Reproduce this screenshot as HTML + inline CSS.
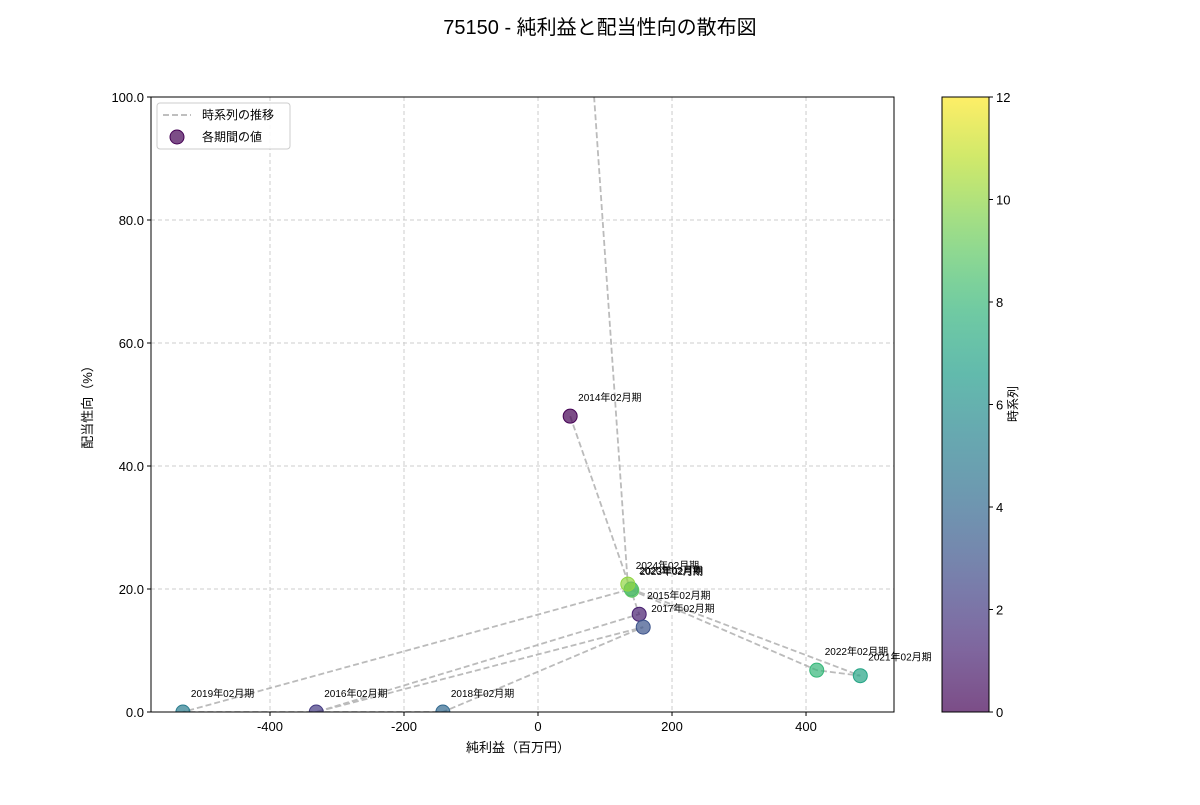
<!DOCTYPE html>
<html><head><meta charset="utf-8"><style>
body{margin:0;background:#fff;}
svg text{font-family:"Liberation Sans","Noto Sans CJK JP",sans-serif;}
</style></head><body>
<svg id="chart" width="1200" height="800" viewBox="0 0 1200 800" xmlns="http://www.w3.org/2000/svg">
<rect width="1200" height="800" fill="#fff"/>
<text x="600" y="34" text-anchor="middle" font-size="20" fill="#000">75150 - 純利益と配当性向の散布図</text>
<g id="grid"></g>
<g id="plot"></g>
<rect x="151" y="97" width="743" height="615" fill="none" stroke="#000" stroke-width="1"/>
<g id="axes"></g>
<text x="518" y="752" text-anchor="middle" font-size="13">純利益（百万円）</text>
<text transform="translate(92,404) rotate(-90)" text-anchor="middle" font-size="13">配当性向（%）</text>
<g>
<rect x="157" y="103" width="133" height="46" rx="3" fill="#fff" fill-opacity="0.85" stroke="#ccc"/>
<line x1="163" y1="115" x2="191" y2="115" stroke="#aaa" stroke-width="1.6" stroke-dasharray="6,3"/>
<text x="202" y="119" font-size="12">時系列の推移</text>
<circle cx="177" cy="137" r="7" fill="#440154" fill-opacity="0.7" stroke="#440154"/>
<text x="202" y="141" font-size="12">各期間の値</text>
</g>
<g id="cbar"></g>
</svg>
<script>
const periods=["2014年02月期","2015年02月期","2016年02月期","2017年02月期","2018年02月期","2019年02月期","2020年02月期","2021年02月期","2022年02月期","2023年02月期","2024年02月期","2025年02月期"];
const netIncome=[48,151,-331,157,-142,-530,139,481,416,140,134,52];
const payout=[48.1,15.9,0,13.8,0,0,20,5.9,6.8,19.8,20.8,150];
const xTicks=[-400,-200,0,200,400];
const yTicks=[0,20,40,60,80,100];
const cTicks=[0,2,4,6,8,10,12];
const NS="http://www.w3.org/2000/svg";
const X0=151,X1=894,Y0=97,Y1=712,xmin=-577.6,xmax=531.3,ymin=0,ymax=100;
const xs=v=>X0+(v-xmin)/(xmax-xmin)*(X1-X0);
const ys=v=>Y1-(v-ymin)/(ymax-ymin)*(Y1-Y0);
function mk(tag,attrs,parent){const e=document.createElementNS(NS,tag);for(const k in attrs)e.setAttribute(k,attrs[k]);parent.appendChild(e);return e;}
const vir=[[68,1,84],[72,40,120],[62,74,137],[49,104,142],[38,130,142],[31,158,137],[53,183,121],[109,205,89],[180,222,44],[253,231,37]];
function viridis(t){t=Math.max(0,Math.min(1,t))*(vir.length-1);const i=Math.min(Math.floor(t),vir.length-2),f=t-i;const c=vir[i].map((a,k)=>Math.round(a+(vir[i+1][k]-a)*f));return `rgb(${c[0]},${c[1]},${c[2]})`;}
const grid=document.getElementById('grid'),axes=document.getElementById('axes'),plot=document.getElementById('plot'),cbar=document.getElementById('cbar');
xTicks.forEach(v=>{const x=xs(v);
const g=mk('line',{x1:x,x2:x,y1:Y0,y2:Y1,stroke:'#ccc','stroke-dasharray':'4,3'},grid);

const t=mk('line',{x1:x,x2:x,y1:Y1,y2:Y1+4,stroke:'#000'},axes);

const l=mk('text',{x:x,y:Y1+19,'text-anchor':'middle','font-size':13},axes);l.textContent=v;
});
yTicks.forEach(v=>{const y=ys(v);
const g=mk('line',{x1:X0,x2:X1,y1:y,y2:y,stroke:'#ccc','stroke-dasharray':'4,3'},grid);

const t=mk('line',{x1:X0-4,x2:X0,y1:y,y2:y,stroke:'#000'},axes);

const l=mk('text',{x:X0-7,y:y+5,'text-anchor':'end','font-size':13},axes);l.textContent=v.toFixed(1);
});
const clip=mk('clipPath',{id:'pc'},document.getElementById('chart'));mk('rect',{x:X0,y:Y0,width:X1-X0,height:Y1-Y0},clip);
const inner=mk('g',{'clip-path':'url(#pc)'},plot);
const pts=netIncome.map((v,i)=>`${xs(v)},${ys(payout[i])}`).join(' ');
const pl=mk('polyline',{points:pts,fill:'none',stroke:'#aaa','stroke-opacity':0.8,'stroke-width':1.8,'stroke-dasharray':'6,3'},inner);

netIncome.forEach((v,i)=>{const c=viridis(i/12);
const p=mk('circle',{cx:xs(v),cy:ys(payout[i]),r:7,fill:c,'fill-opacity':0.7,stroke:c,'stroke-width':1},inner);
});
netIncome.forEach((v,i)=>{if(payout[i]>ymax)return;
const l=mk('text',{x:xs(v)+8,y:ys(payout[i])-15,'font-size':10},plot);l.textContent=periods[i];
});
const CX=942,CW=47;
const defs=mk('defs',{},cbar);const gr=mk('linearGradient',{id:'vg',x1:0,y1:1,x2:0,y2:0},defs);
for(let k=0;k<=20;k++)mk('stop',{offset:k/20,'stop-color':viridis(k/20),'stop-opacity':0.7},gr);
mk('rect',{x:CX,y:Y0-1,width:CW+10,height:Y1-Y0+2,fill:'#fff'},cbar);
const cb=mk('rect',{x:CX,y:Y0,width:CW,height:Y1-Y0,fill:'url(#vg)',stroke:'#000'},cbar);

cTicks.forEach(v=>{const y=Y1-v/12*(Y1-Y0);
const t=mk('line',{x1:CX+CW,x2:CX+CW+4,y1:y,y2:y,stroke:'#000'},cbar);

const l=mk('text',{x:CX+CW+7,y:y+5,'font-size':13},cbar);l.textContent=v;
});
const ct=mk('text',{transform:'translate(1017,404) rotate(-90)','text-anchor':'middle','font-size':12},cbar);ct.textContent='時系列';

</script>
</body></html>
